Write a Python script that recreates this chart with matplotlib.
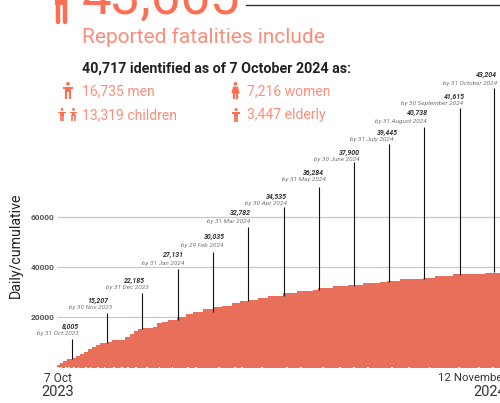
import matplotlib
matplotlib.use('Agg')
import matplotlib.pyplot as plt
from matplotlib.patches import Circle, Polygon

plt.rcParams['font.family'] = ['Roboto', 'DejaVu Sans']

# cumulative profile
edges = [0, 3, 6, 9, 14, 18, 21, 25, 29, 32, 36, 40, 46, 51, 56, 63, 68, 71, 75, 79,
         89, 93, 97, 103, 111, 119, 126, 135, 144, 153, 162, 169, 177, 186, 195, 209,
         222, 237, 242, 256, 269, 283, 299, 306, 318, 339, 350, 367, 384, 396, 411]
heights = [800, 1600, 2400, 3200, 3600, 4400, 5200, 6200, 7200, 8200, 8800, 9600, 10000,
           10800, 11000, 12000, 13200, 14400, 15200, 15800, 16000, 17600, 18000, 18800,
           20000, 21200, 22000, 23200, 24000, 24400, 25600, 26400, 26800, 27600, 28400,
           29600, 30400, 30800, 31600, 32400, 32800, 33600, 34000, 34400, 35200, 35600,
           36400, 37200, 37400, 37500]
notch_days = [1, 4, 8, 11, 16, 20, 27, 31, 38, 44, 53, 60, 66, 73, 83, 95, 107, 121, 129,
              150, 165, 171, 190, 213, 226, 246, 262, 275, 288, 310, 326, 345, 372, 391, 404]

# monthly call-outs
stem_days = [14, 46, 79, 112, 144, 177, 210, 243, 275, 307, 340, 373, 405]
stem_low = [3200, 9600, 15200, 18800, 22000, 26400, 28400, 30800, 32400, 34000, 35400, 37000, 38000]
stem_high = [11200, 21600, 29600, 39200, 46000, 56000, 64000, 72000, 82000, 89200, 96000, 103600, 111600]
totals = ['8,005', '15,207', '22,185', '27,131', '30,035', '32,782', '34,535',
          '36,284', '37,900', '39,445', '40,738', '41,615', '43,204']
dates = ['by 31 Oct 2023', 'by 30 Nov 2023', 'by 31 Dec 2023', 'by 31 Jan 2024', 'by 29 Feb 2024',
         'by 31 Mar 2024', 'by 30 Apr 2024', 'by 31 May 2024', 'by 30 June 2024', 'by 31 July 2024',
         'by 31 August 2024', 'by 30 September 2024', 'by 31 October 2024']
# label layout, pixels from stem top
date_dx = [7, 5, 6.5, 6, 11, 2, 3, 6, 6, 5, 3, 3, 3]
date_dy = [5, 5, 5, 6, 6, 6, 4, 7, 3, 4, 5, 4, 4]
total_dx = [7, 2, 2.5, 6, 12, 3, 3, 4, 6, 9, 4, 5, 3]
total_dy = [12, 13, 12, 15, 15, 15, 11, 15, 10, 12, 14, 12, 13]

grid_values = [20000, 40000, 60000]

RED = '#e8705a'
SALMON = '#fb8e7b'
BRIGHT = '#fb6f54'
DARK = '#222222'

fig = plt.figure(figsize=(5, 4.03), dpi=100)
ax = fig.add_axes([57 / 500, (403 - 368) / 403, 443 / 500, 368 / 403])
ax.set_xlim(0, 443 / 1.08)
ax.set_ylim(-400, 367 * 400)
for s in ax.spines.values():
    s.set_visible(False)

ax.hlines(grid_values, 0, 411, color='#c8c8c8', lw=0.9, zorder=1)
ax.stairs(heights, edges, baseline=-400, fill=True, color=RED, lw=0, zorder=2)
ax.bar(notch_days, [450] * len(notch_days), width=1.6, bottom=-400, color='white', lw=0, zorder=3)
ax.vlines(stem_days, stem_low, stem_high, color='#111111', lw=0.8, zorder=4)

ax.set_xticks([])
ax.set_yticks(grid_values)
ax.set_yticklabels([str(v) for v in grid_values], fontsize=6, fontweight='bold', color='#555555')
ax.tick_params(axis='y', length=0, pad=1.6)

for i, d in enumerate(stem_days):
    ax.annotate(dates[i], (d, stem_high[i]), xytext=(date_dx[i], date_dy[i]), textcoords='offset pixels',
                ha='right', va='center', fontsize=4.6, style='italic', color='#777777', annotation_clip=False)
    ax.annotate(totals[i], (d, stem_high[i]), xytext=(total_dx[i], total_dy[i]), textcoords='offset pixels',
                ha='right', va='center', fontsize=5, style='italic', fontweight='bold', color='#333333',
                annotation_clip=False)

# header and icons are laid out in pixels
ov = fig.add_axes([0, 0, 1, 1], facecolor='none')
ov.set_xlim(0, 500)
ov.set_ylim(403, 0)
ov.axis('off')


def person(x, top, h, color=BRIGHT, skirt=False):
    r = h * 0.11
    ov.add_patch(Circle((x, top + r), r, color=color, lw=0))
    w = h * 0.3
    y0 = top + 2.2 * r + 0.5
    if skirt:
        ov.add_patch(Polygon([(x - w * 0.5, y0), (x + w * 0.5, y0), (x + w * 0.8, top + h * 0.68),
                              (x - w * 0.8, top + h * 0.68)], color=color, lw=0))
    else:
        ov.add_patch(Polygon([(x - w, y0), (x + w, y0), (x + w, y0 + h * 0.12), (x + w * 0.5, y0 + h * 0.12),
                              (x + w * 0.5, top + h * 0.6), (x - w * 0.5, top + h * 0.6),
                              (x - w * 0.5, y0 + h * 0.12), (x - w, y0 + h * 0.12)], color=color, lw=0))
    ov.plot([x - w * 0.3, x - w * 0.3], [top + h * 0.55, top + h], color=color, lw=h * 0.09, solid_capstyle='butt')
    ov.plot([x + w * 0.3, x + w * 0.3], [top + h * 0.55, top + h], color=color, lw=h * 0.09, solid_capstyle='butt')


# big figure, cut off by the top of the image
ov.text(82, 14, '43,665', fontsize=38, color=BRIGHT, va='baseline', ha='left')
ov.plot([246, 500], [5, 5], color='#333333', lw=1)
ov.plot([57.5, 57.5], [-2, 22], color=BRIGHT, lw=3.2, solid_capstyle='round')
ov.plot([64.5, 64.5], [-2, 22], color=BRIGHT, lw=3.2, solid_capstyle='round')
ov.fill_between([55, 67], -2, 5, color=BRIGHT, lw=0)

ov.text(82, 43, 'Reported fatalities include', fontsize=15, color=SALMON, va='baseline')
ov.text(82, 73, '40,717 identified as of 7 October 2024 as:', fontsize=10.3, fontweight='bold', color=DARK, va='baseline')
ov.text(82, 95, '16,735 men', fontsize=10.1, color=SALMON, va='baseline')
ov.text(247, 95, '7,216 women', fontsize=10.1, color=SALMON, va='baseline')
ov.text(82, 119, '13,319 children', fontsize=10.1, color=SALMON, va='baseline')
ov.text(247, 119, '3,447 elderly', fontsize=10.1, color=SALMON, va='baseline')

person(68, 82, 17)
person(235.5, 82, 17, skirt=True)
person(62, 108, 13)
person(73.5, 108, 13)
person(236, 108, 14)

ov.text(16, 245, 'Daily/cumulative', rotation=90, fontsize=10.2, color=DARK, ha='center', va='center')
ov.text(58, 378, '7 Oct', fontsize=8.6, color='#333333', ha='center', va='center')
ov.text(58, 392, '2023', fontsize=10.5, color='#333333', ha='center', va='center')
ov.text(438, 378, '12 November', fontsize=8.2, color='#333333', ha='left', va='center')
ov.text(473, 392, '2024', fontsize=10.5, color='#333333', ha='left', va='center')

fig.savefig('out.png', dpi=100)
